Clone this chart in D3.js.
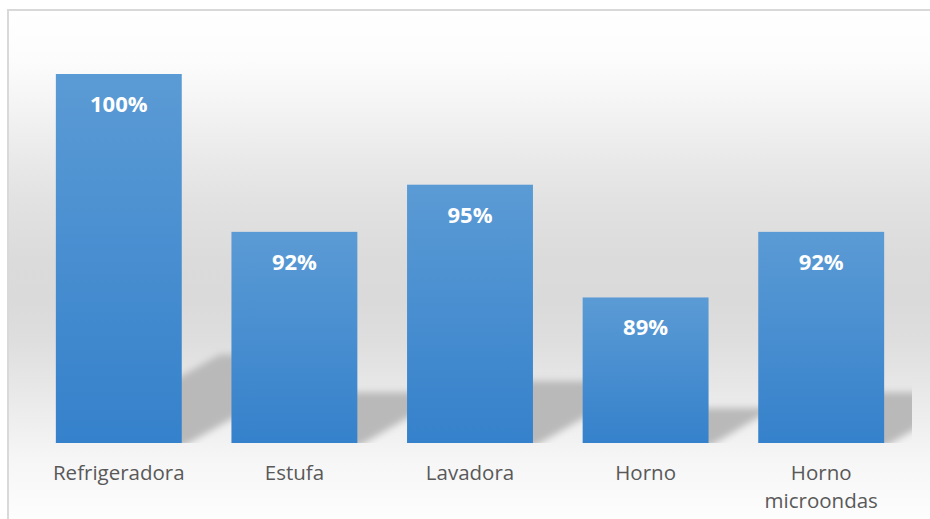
<!DOCTYPE html>
<meta charset="utf-8">
<head>
<style>
body { margin: 0; background: #fff; }
.bar-label { font: bold 22px "Open Sans", sans-serif; fill: #fff; }
.axis text { font: 20.5px "Open Sans", sans-serif; fill: #595959; }
</style>
</head>
<body>
<script src="https://cdn.jsdelivr.net/npm/d3@7"></script>
<script>

// data
var categories = ["Refrigeradora", "Estufa", "Lavadora", "Horno", "Horno microondas"];
var values = [100, 92.3, 94.6, 89.1, 92.3];

var W = 930, H = 519;
var base = 443, top100 = 74;

var svg = d3.select("body").append("svg")
    .attr("width", W)
    .attr("height", H);

var defs = svg.append("defs");

// chart background: light gray band in the middle
var bg = defs.append("linearGradient")
    .attr("id", "bg")
    .attr("gradientUnits", "userSpaceOnUse")
    .attr("x1", 0).attr("y1", 9).attr("x2", 0).attr("y2", 519);
[[9, "#ffffff"], [60, "#fcfcfc"], [100, "#f5f5f5"], [150, "#ebebeb"], [200, "#e2e2e2"],
 [260, "#dbdbdb"], [300, "#dadada"], [340, "#dedede"], [380, "#e6e6e6"], [430, "#f0f0f0"],
 [460, "#f6f6f6"], [519, "#fdfdfd"]].forEach(function(s) {
    bg.append("stop")
      .attr("offset", ((s[0] - 9) / 510 * 100) + "%")
      .attr("stop-color", s[1]);
});

var barGrad = defs.append("linearGradient")
    .attr("id", "barGrad")
    .attr("x1", 0).attr("y1", 0).attr("x2", 0).attr("y2", 1);
barGrad.append("stop").attr("offset", "0%").attr("stop-color", "#5b9bd5");
barGrad.append("stop").attr("offset", "100%").attr("stop-color", "#3581cb");

defs.append("filter")
    .attr("id", "blur")
    .attr("x", "-20%").attr("y", "-30%").attr("width", "140%").attr("height", "160%")
    .append("feGaussianBlur")
    .attr("stdDeviation", 3.5);

defs.append("clipPath")
    .attr("id", "plotClip")
    .append("rect")
    .attr("x", 20).attr("y", 20).attr("width", 892).attr("height", base - 20);

// frame
svg.append("rect")
    .attr("x", 8).attr("y", 10)
    .attr("width", 940).attr("height", 530)
    .attr("fill", "url(#bg)")
    .attr("stroke", "#d9d9d9")
    .attr("stroke-width", 2);

var x = d3.scaleBand()
    .domain(categories)
    .range([31, 909])
    .paddingInner(0.283)
    .paddingOuter(0.1415);

var y = d3.scaleLinear()
    .domain([82, 100])
    .range([base, top100]);

// perspective shadows lying behind the bars
var shadowK = 0.24, shadowSlant = 1.85;
svg.append("g")
    .attr("clip-path", "url(#plotClip)")
    .selectAll("polygon")
    .data(values)
    .enter()
    .append("polygon")
    .attr("points", function(d, i) {
        var x0 = x(categories[i]), x1 = x0 + x.bandwidth();
        var sh = (base - y(d)) * shadowK, dx = sh * shadowSlant;
        return [[x0, base + 4], [x1, base + 4], [x1 + dx, base - sh], [x0 + dx, base - sh]].join(" ");
    })
    .attr("fill", "#b9b9b9")
    .attr("filter", "url(#blur)");

svg.selectAll(".bar")
    .data(values)
    .enter()
    .append("rect")
    .attr("class", "bar")
    .attr("x", function(d, i) { return x(categories[i]); })
    .attr("y", function(d) { return y(d); })
    .attr("width", x.bandwidth())
    .attr("height", function(d) { return base - y(d); })
    .attr("fill", "url(#barGrad)");

svg.selectAll(".bar-label")
    .data(values)
    .enter()
    .append("text")
    .attr("class", "bar-label")
    .attr("x", function(d, i) { return x(categories[i]) + x.bandwidth() / 2; })
    .attr("y", function(d) { return y(d) + 38; })
    .attr("text-anchor", "middle")
    .text(function(d) { return Math.round(d) + "%"; });

var xAxis = svg.append("g")
    .attr("class", "axis")
    .attr("transform", "translate(0," + base + ")")
    .call(d3.axisBottom(x).tickSize(0));

xAxis.select(".domain").remove();

// wrap two-word labels onto two lines
xAxis.selectAll(".tick text")
    .attr("y", 0)
    .attr("dy", null)
    .each(function(d) {
        var t = d3.select(this);
        var words = d.split(" ");
        t.text(null);
        words.forEach(function(w, k) {
            t.append("tspan")
                .attr("x", 0)
                .attr("y", 37 + k * 28)
                .text(w);
        });
    });

</script>
</body>
